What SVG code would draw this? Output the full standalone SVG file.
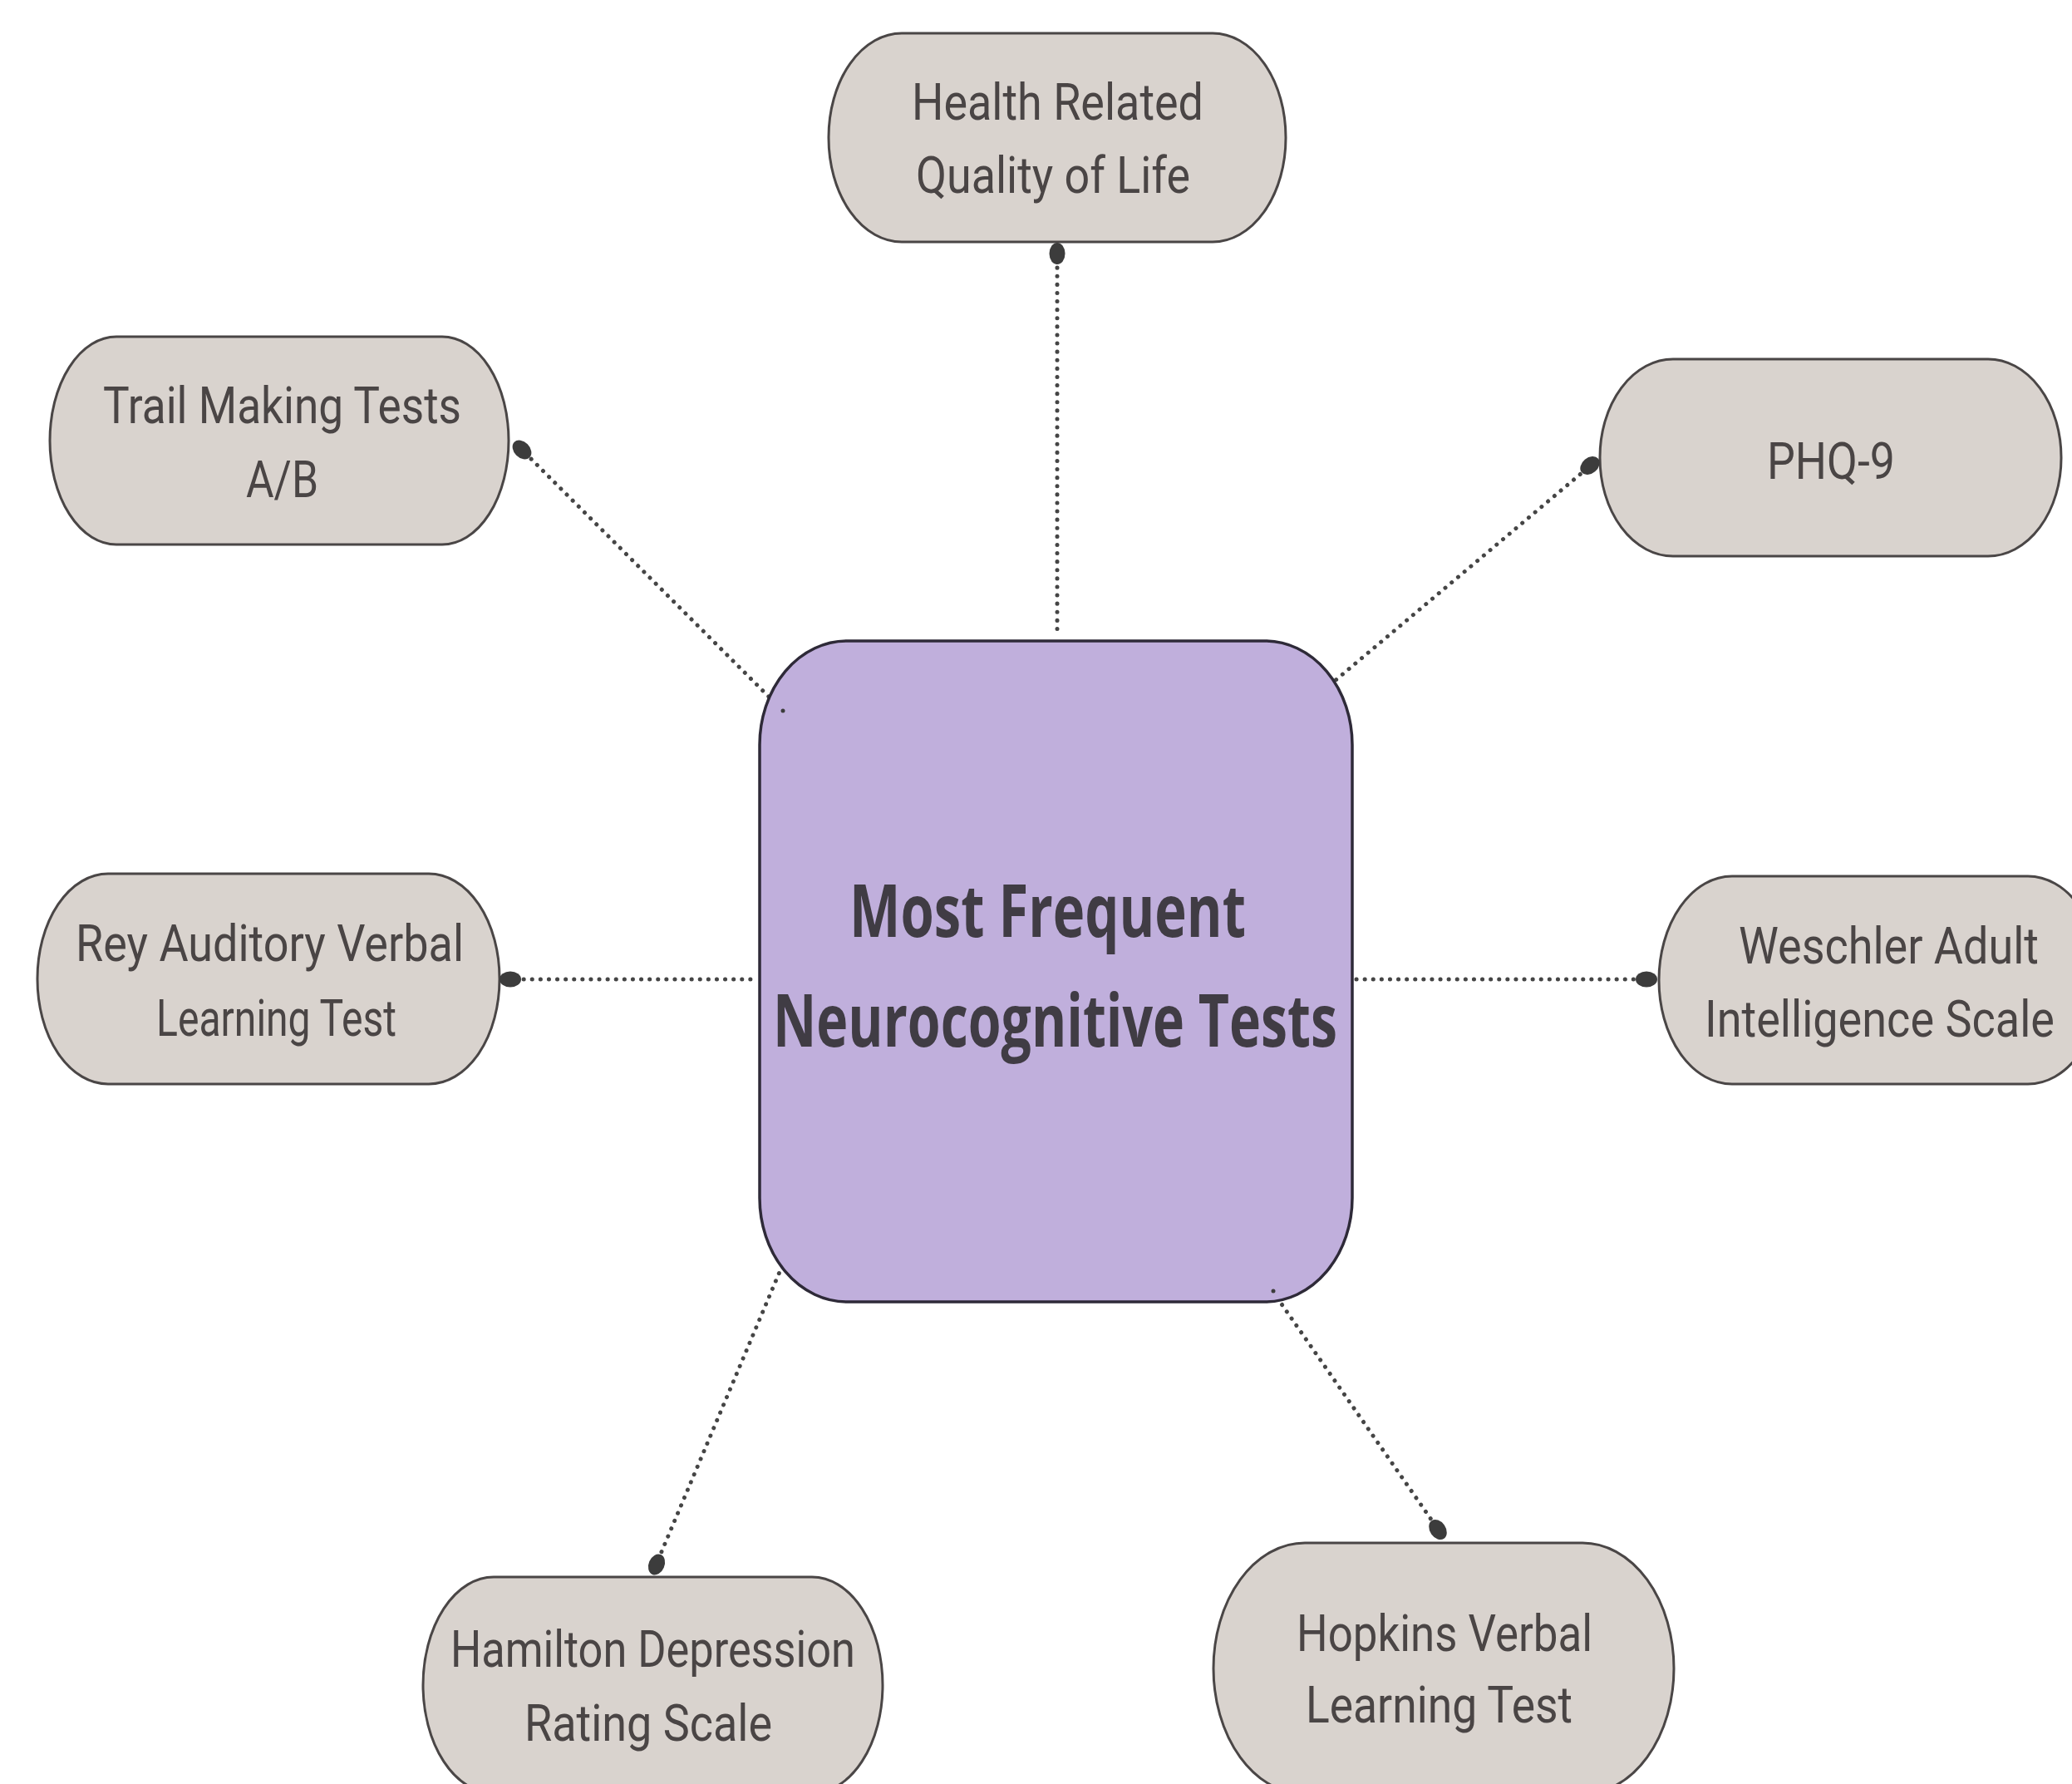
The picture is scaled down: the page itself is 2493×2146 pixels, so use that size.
<svg xmlns="http://www.w3.org/2000/svg" width="2493" height="2146" viewBox="0 0 2493 2146">
<style>
.node rect{fill:#d9d3ce;stroke:#4a4646;stroke-width:3}
.node text{font-family:Roboto,"Liberation Sans",sans-serif;font-size:62px;fill:#4a4545}
#center rect{fill:#c0afdc;stroke:#2e2a38;stroke-width:3.5}
#center text{font-family:"Open Sans",Lato,"Liberation Sans",sans-serif;font-weight:bold;font-size:88px;fill:#403c44}
.conn{stroke:#454545;stroke-width:5;stroke-linecap:round;stroke-dasharray:0.1 10;fill:none}
.dot{fill:#3c3c3c}
</style>
<rect width="2493" height="2146" fill="#ffffff"/>
<g id="connectors">
<line class="conn" x1="1272" y1="312" x2="1272" y2="766"/>
<line class="conn" x1="632" y1="545" x2="927" y2="840"/>
<line class="conn" x1="1909" y1="564" x2="1606" y2="819"/>
<line class="conn" x1="620" y1="1178" x2="908" y2="1178"/>
<line class="conn" x1="1632" y1="1178" x2="1976" y2="1178"/>
<line class="conn" x1="792" y1="1876" x2="938" y2="1530"/>
<line class="conn" x1="1727" y1="1835" x2="1538" y2="1563"/>
</g>
<g id="center">
<rect x="914" y="771" width="713" height="795" rx="105" ry="125"/>
<text x="1022" y="1127" textLength="477" lengthAdjust="spacingAndGlyphs">Most Frequent</text>
<text x="930" y="1259" textLength="679" lengthAdjust="spacingAndGlyphs">Neurocognitive Tests</text>
</g>
<g id="health" class="node">
<rect x="997" y="40" width="550" height="251" rx="88" ry="125"/>
<text x="1097" y="144" textLength="351" lengthAdjust="spacingAndGlyphs">Health Related</text>
<text x="1102" y="232" textLength="330" lengthAdjust="spacingAndGlyphs">Quality of Life</text>
</g>
<g id="trail" class="node">
<rect x="60" y="405" width="552" height="250" rx="80" ry="125"/>
<text x="124" y="509" textLength="431" lengthAdjust="spacingAndGlyphs">Trail Making Tests</text>
<text x="296" y="598" textLength="87" lengthAdjust="spacingAndGlyphs">A/B</text>
</g>
<g id="phq9" class="node">
<rect x="1925" y="432" width="555" height="237" rx="88" ry="118"/>
<text x="2126" y="576" textLength="154" lengthAdjust="spacingAndGlyphs">PHQ-9</text>
</g>
<g id="rey" class="node">
<rect x="45" y="1051" width="556" height="253" rx="85" ry="126"/>
<text x="91" y="1156" textLength="467" lengthAdjust="spacingAndGlyphs">Rey Auditory Verbal</text>
<text x="188" y="1246" textLength="289" lengthAdjust="spacingAndGlyphs">Learning Test</text>
</g>
<g id="weschler" class="node">
<rect x="1996" y="1054" width="532" height="250" rx="88" ry="125"/>
<text x="2092" y="1159" textLength="361" lengthAdjust="spacingAndGlyphs">Weschler Adult</text>
<text x="2051" y="1247" textLength="421" lengthAdjust="spacingAndGlyphs">Intelligence Scale</text>
</g>
<g id="hamilton" class="node">
<rect x="509" y="1897" width="553" height="260" rx="85" ry="130"/>
<text x="542" y="2005" textLength="487" lengthAdjust="spacingAndGlyphs">Hamilton Depression</text>
<text x="631" y="2094" textLength="298" lengthAdjust="spacingAndGlyphs">Rating Scale</text>
</g>
<g id="hopkins" class="node">
<rect x="1460" y="1856" width="554" height="302" rx="110" ry="151"/>
<text x="1560" y="1986" textLength="356" lengthAdjust="spacingAndGlyphs">Hopkins Verbal</text>
<text x="1571" y="2072" textLength="321" lengthAdjust="spacingAndGlyphs">Learning Test</text>
</g>
<g id="endpoints">
<ellipse class="dot" cx="1272" cy="305" rx="13" ry="9.5" transform="rotate(90 1272 305)"/>
<ellipse class="dot" cx="628" cy="541" rx="13" ry="9.5" transform="rotate(45 628 541)"/>
<ellipse class="dot" cx="1913" cy="560" rx="13" ry="9.5" transform="rotate(140 1913 560)"/>
<ellipse class="dot" cx="614" cy="1178" rx="13" ry="9.5"/>
<ellipse class="dot" cx="1981" cy="1178" rx="13" ry="9.5"/>
<ellipse class="dot" cx="790" cy="1882" rx="13" ry="9.5" transform="rotate(-67 790 1882)"/>
<ellipse class="dot" cx="1730" cy="1840" rx="13" ry="9.5" transform="rotate(55 1730 1840)"/>
<circle class="dot" cx="942" cy="855" r="2.5"/>
<circle class="dot" cx="1532" cy="1553" r="2.5"/>
</g>
</svg>
